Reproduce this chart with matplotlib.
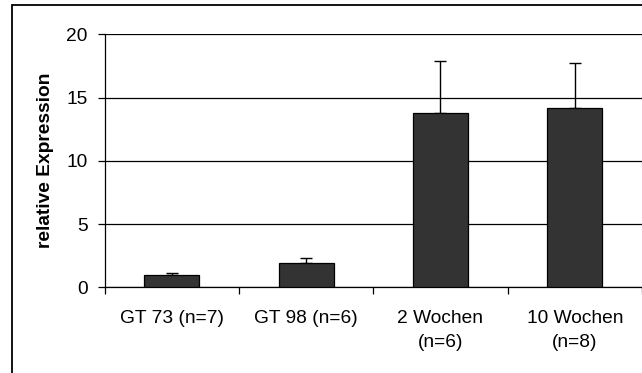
import matplotlib as mpl
import matplotlib.pyplot as plt
from matplotlib.patches import Rectangle


GROUPS = ["GT 73 (n=7)", "GT 98 (n=6)", "2 Wochen\n(n=6)", "10 Wochen\n(n=8)"]
EXPRESSION = [0.95, 1.9, 13.75, 14.15]
EXPRESSION_SD = [0.18, 0.42, 4.1, 3.6]
Y_TICKS = [0, 5, 10, 15, 20]


def main():
    mpl.rcParams.update(
        {
            "font.family": ["Liberation Sans", "DejaVu Sans"],
            "font.size": 13.8,
        }
    )

    fig = plt.figure(figsize=(6.42, 3.73), dpi=100)
    fig.patch.set_facecolor("white")
    ax = fig.add_axes([104.5 / 642, 1 - 287.3 / 373, 1 - 104.5 / 642, 253 / 373])

    x = list(range(len(GROUPS)))
    ax.bar(
        x,
        EXPRESSION,
        width=0.41,
        color="#333333",
        edgecolor="black",
        linewidth=0.9,
        zorder=3,
    )
    ax.errorbar(
        x,
        EXPRESSION,
        yerr=[[0] * len(EXPRESSION_SD), EXPRESSION_SD],
        fmt="none",
        ecolor="black",
        elinewidth=1.0,
        capsize=4,
        capthick=1.0,
        zorder=2,
    )

    ax.set_xlim(-0.5, len(GROUPS) - 0.5)
    ax.set_ylim(0, 20)
    ax.set_yticks(Y_TICKS)
    ax.yaxis.grid(True, color="black", linewidth=0.9, zorder=0)
    ax.set_axisbelow(True)

    ax.set_xticks(x)
    ax.set_xticklabels(GROUPS, linespacing=1.6)
    ax.set_xticks([i - 0.5 for i in range(len(GROUPS) + 1)], minor=True)
    ax.tick_params(axis="x", which="major", length=0, pad=16)
    ax.tick_params(axis="x", which="minor", length=5, width=0.9, direction="out")
    ax.tick_params(axis="y", length=5, width=0.9, direction="out", pad=7)

    for side in ("top", "right"):
        ax.spines[side].set_visible(False)
    for side in ("left", "bottom"):
        ax.spines[side].set_linewidth(0.9)

    ax.set_ylabel("relative Expression", fontweight="bold", labelpad=9)

    # outer frame around the whole chart
    fig.patches.append(
        Rectangle(
            (12 / 642, -0.1),
            1.2,
            1.1 - 5 / 373,
            transform=fig.transFigure,
            fill=False,
            edgecolor="black",
            linewidth=1.3,
        )
    )

    fig.savefig("out.png", dpi=100)
    plt.close(fig)


if __name__ == "__main__":
    main()
